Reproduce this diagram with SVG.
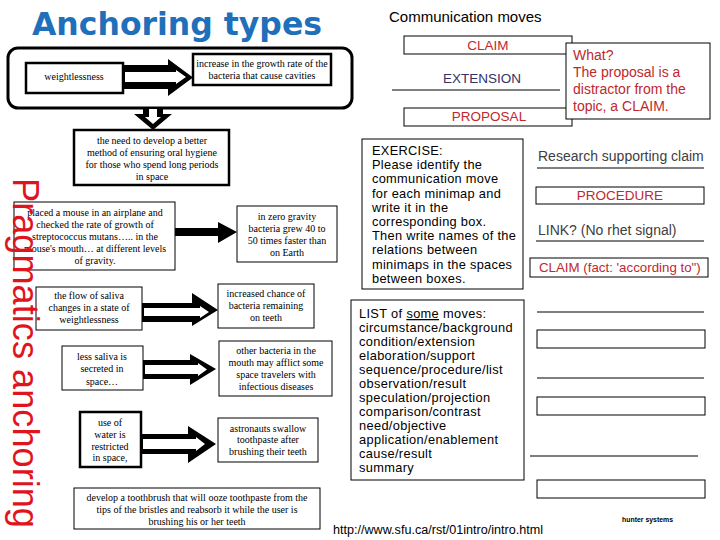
<svg xmlns="http://www.w3.org/2000/svg" width="720" height="540" viewBox="0 0 720 540">
<style>
.bx{fill:#fff;stroke:#000;stroke-width:1}
.bxt{fill:#fff;stroke:#000;stroke-width:2.5}
.sr{font-family:"Liberation Serif","Times New Roman",serif;font-size:10px;fill:#000;text-anchor:middle}
.sa{font-family:"Liberation Sans",Arial,sans-serif;fill:#000}
.red{fill:#c0282d}
.ln{stroke:#000;stroke-width:1.2}
.arw{fill:#000}
.arwi{fill:#fff}
</style>
<rect width="720" height="540" fill="#fff"/>
<text x="32" y="35" font-family="'DejaVu Sans',Verdana,sans-serif" font-weight="bold" font-size="32" fill="#1f6fba" textLength="290" lengthAdjust="spacingAndGlyphs">Anchoring types</text>

<g id="frame"><rect x="8" y="48" width="344" height="60" rx="10" fill="none" stroke="#000" stroke-width="3"/></g>

<g id="n-weightless"><rect class="bxt" x="26" y="63" width="97" height="30"/><text class="sr" x="74" y="80">weightlessness</text></g>
<g id="n-increase"><rect class="bxt" x="193" y="54" width="138" height="31" stroke-width="2"/><text class="sr" x="262" y="67">increase in the growth rate of the</text><text class="sr" x="262" y="79">bacteria that cause cavities</text></g>
<g id="n-need"><rect class="bxt" x="74" y="130" width="155" height="55" stroke-width="3"/><text class="sr" x="152" y="144">the need to develop a better</text><text class="sr" x="152" y="156">method of ensuring oral hygiene</text><text class="sr" x="152" y="168">for those who spend long periods</text><text class="sr" x="152" y="180">in space</text></g>
<g id="n-placed"><rect class="bx" x="14" y="202" width="161" height="68"/><text class="sr" x="95" y="216">placed a mouse in an airplane and</text><text class="sr" x="95" y="228">checked the rate of growth of</text><text class="sr" x="95" y="240">streptococcus mutans….. in the</text><text class="sr" x="95" y="252">mouse's mouth… at different levels</text><text class="sr" x="95" y="264">of gravity.</text></g>
<g id="n-zero"><rect class="bx" x="237" y="206" width="100" height="56"/><text class="sr" x="287" y="220">in zero gravity</text><text class="sr" x="287" y="232">bacteria grew 40 to</text><text class="sr" x="287" y="244">50 times faster than</text><text class="sr" x="287" y="256">on Earth</text></g>
<g id="n-flow"><rect class="bx" x="36" y="287" width="106" height="43"/><text class="sr" x="89" y="299">the flow of saliva</text><text class="sr" x="89" y="311">changes in a state of</text><text class="sr" x="89" y="323">weightlessness</text></g>
<g id="n-chance"><rect class="bx" x="218" y="284" width="96" height="44"/><text class="sr" x="266" y="297">increased chance of</text><text class="sr" x="266" y="309">bacteria remaining</text><text class="sr" x="266" y="321">on teeth</text></g>
<g id="n-less"><rect class="bx" x="62" y="346" width="81" height="44"/><text class="sr" x="102" y="360">less saliva is</text><text class="sr" x="102" y="372">secreted in</text><text class="sr" x="102" y="385">space…</text></g>
<g id="n-other"><rect class="bx" x="219" y="341" width="113" height="55"/><text class="sr" x="276" y="354">other bacteria in the</text><text class="sr" x="276" y="366">mouth may afflict some</text><text class="sr" x="276" y="378">space travelers with</text><text class="sr" x="276" y="390">infectious diseases</text></g>
<g id="n-water"><rect class="bxt" x="80" y="412" width="61" height="55" stroke-width="3"/><text class="sr" x="110" y="426">use of</text><text class="sr" x="110" y="438">water is</text><text class="sr" x="110" y="450">restricted</text><text class="sr" x="110" y="461">in space,</text></g>
<g id="n-astro"><rect class="bx" x="218" y="418" width="100" height="44"/><text class="sr" x="268" y="432">astronauts swallow</text><text class="sr" x="268" y="443">toothpaste after</text><text class="sr" x="268" y="455">brushing their teeth</text></g>
<g id="n-develop"><rect class="bx" x="74" y="488" width="246" height="41"/><text class="sr" x="197" y="501">develop a toothbrush that will ooze toothpaste from the</text><text class="sr" x="197" y="513">tips of the bristles and reabsorb it while the user is</text><text class="sr" x="197" y="525">brushing his or her teeth</text></g>

<g id="connectors">
<polygon class="arw" points="123,65 168,65 168,59 193,77.5 168,96 168,89 123,89"/>
<polygon class="arwi" points="125,72 176,72 176,70 186,77 176,84 176,82 125,82"/>
<polygon class="arw" points="143,108 163,108 163,114 172,114 153,130 134,114 143,114"/>
<polygon class="arwi" points="149,109 157,109 157,117 161,117 153,124 145,117 149,117"/>
<polygon class="arw" points="175,228 218,228 218,222 237,232 218,243 218,236 175,236"/>
<polygon class="arw" points="142,303 192,303 192,293 218,310 192,326 192,322 142,322"/>
<polygon class="arwi" points="144,308 200,308 200,306 209,312 200,318 200,316 144,316"/>
<polygon class="arw" points="143,360 190,360 190,354 216,369 190,385 190,379 143,379"/>
<polygon class="arwi" points="145,365 198,365 198,363 207,369.5 198,376 198,374 145,374"/>
<polygon class="arw" points="141,434 188,434 188,426 216,444 188,463 188,454 141,454"/>
<polygon class="arwi" points="143,439 196,439 196,437 205,444 196,451 196,449 143,449"/>
</g>

<text transform="translate(13,178) rotate(90)" font-family="'Liberation Sans',Arial,sans-serif" font-size="36" fill="#e0141e" textLength="350" lengthAdjust="spacingAndGlyphs">Pragmatics anchoring</text>

<text class="sa" x="389" y="22" font-size="15">Communication moves</text>
<g id="n-claim"><rect class="bx" x="404" y="36" width="168" height="18"/><text class="sa red" x="488" y="50" font-size="13.5" text-anchor="middle">CLAIM</text></g>
<g id="n-extension"><text class="sa" x="482" y="83" font-size="13.5" text-anchor="middle" style="fill:#333366">EXTENSION</text><line class="ln" x1="392" y1="90" x2="560" y2="90"/></g>
<g id="n-proposal"><rect class="bx" x="404" y="108" width="168" height="18"/><text class="sa red" x="489" y="121" font-size="13.5" text-anchor="middle">PROPOSAL</text></g>
<g id="n-what"><rect class="bx" x="566" y="43" width="144" height="76"/><text class="sa red" font-size="14"><tspan x="573" y="60">What?</tspan><tspan x="573" y="77">The proposal is a</tspan><tspan x="573" y="94">distractor from the</tspan><tspan x="573" y="111">topic, a CLAIM.</tspan></text></g>
<g id="n-exercise"><rect class="bx" x="362" y="139" width="161" height="150"/><text class="sa" font-size="12.8" letter-spacing="0.3"><tspan x="372" y="155">EXERCISE:</tspan><tspan x="372" y="169.2">Please identify the</tspan><tspan x="372" y="183.4">communication move</tspan><tspan x="372" y="197.6">for each  minimap and</tspan><tspan x="372" y="211.8">write it in the</tspan><tspan x="372" y="226">corresponding box.</tspan><tspan x="372" y="240.2">Then write names of the</tspan><tspan x="372" y="254.4">relations between</tspan><tspan x="372" y="268.6">minimaps in the spaces</tspan><tspan x="372" y="282.8">between boxes.</tspan></text></g>
<g id="n-research"><text class="sa" x="538" y="161" font-size="14" style="fill:#404040">Research supporting claim</text><line class="ln" x1="537" y1="168" x2="704" y2="168"/></g>
<g id="n-procedure"><rect class="bx" x="536" y="187" width="168" height="17"/><text class="sa red" x="620" y="200" font-size="13.5" text-anchor="middle">PROCEDURE</text></g>
<g id="n-link"><text class="sa" x="538" y="235" font-size="14" style="fill:#404040">LINK? (No rhet signal)</text><line class="ln" x1="536" y1="241" x2="704" y2="241"/></g>
<g id="n-claimfact"><rect class="bx" x="530" y="258" width="178" height="19"/><text class="sa red" x="539" y="272" font-size="13.3">CLAIM (fact: 'according to")</text></g>
<g id="n-list"><rect class="bx" x="351" y="300" width="173" height="180"/><text class="sa" font-size="12.8" letter-spacing="0.35"><tspan x="359" y="318">LIST of </tspan><tspan text-decoration="underline">some</tspan><tspan> moves:</tspan><tspan x="359" y="332">circumstance/background</tspan><tspan x="359" y="346">condition/extension</tspan><tspan x="359" y="360">elaboration/support</tspan><tspan x="359" y="374">sequence/procedure/list</tspan><tspan x="359" y="388">observation/result</tspan><tspan x="359" y="402">speculation/projection</tspan><tspan x="359" y="416">comparison/contrast</tspan><tspan x="359" y="430">need/objective</tspan><tspan x="359" y="444">application/enablement</tspan><tspan x="359" y="458">cause/result</tspan><tspan x="359" y="472">summary</tspan></text></g>
<g id="n-blanks">
<line class="ln" x1="537" y1="312" x2="704" y2="312"/>
<rect class="bx" x="537" y="330" width="168" height="18"/>
<line class="ln" x1="537" y1="378" x2="704" y2="378"/>
<rect class="bx" x="537" y="397" width="168" height="18"/>
<line class="ln" x1="530" y1="456" x2="698" y2="456"/>
<rect class="bx" x="537" y="480" width="168" height="18"/>
</g>
<text class="sa" x="333" y="534" font-size="12.5" textLength="210" lengthAdjust="spacingAndGlyphs">http://www.sfu.ca/rst/01intro/intro.html</text>
<text class="sa" x="622" y="522" font-size="8" font-weight="bold" textLength="51" lengthAdjust="spacingAndGlyphs">hunter systems</text>
</svg>
